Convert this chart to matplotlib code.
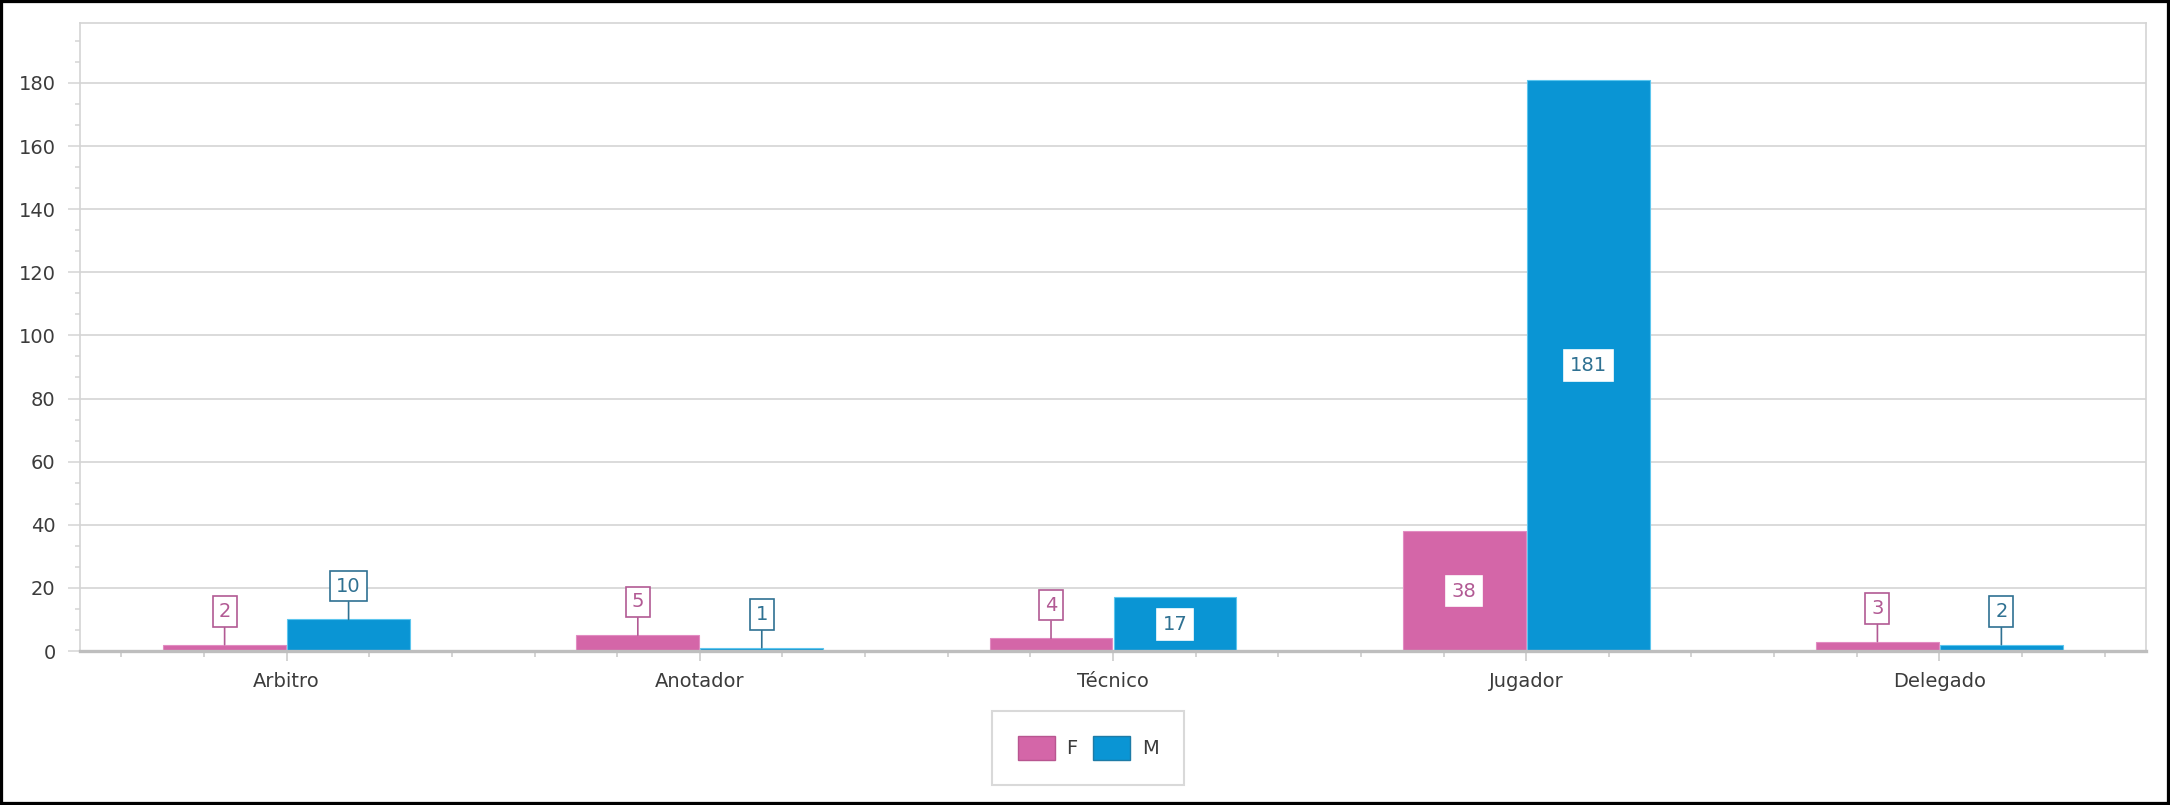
import matplotlib
matplotlib.use('Agg')
import matplotlib.pyplot as plt
from matplotlib.patches import Patch, Rectangle
from matplotlib.ticker import MultipleLocator, FixedLocator
import numpy as np

categories = ['Arbitro', 'Anotador', 'Técnico', 'Jugador', 'Delegado']
values_f = [2, 5, 4, 38, 3]
values_m = [10, 1, 17, 181, 2]
series_names = ['F', 'M']

color_f = '#D466A8'
color_m = '#0A95D4'
edge_f = '#E28CC2'
edge_m = '#5CC6EE'
label_f = '#B25A94'
label_m = '#2F7192'
text_color = '#3C3C3C'
grid_color = '#D4D4D4'

plt.rcParams['font.family'] = ['DejaVu Sans']

fig = plt.figure(figsize=(21.7, 8.05), dpi=100)
ax = fig.add_axes([80 / 2170, 154 / 805, 2066 / 2170, 628 / 805])

x = np.arange(len(categories))
bar_w = 0.297
bars_f = ax.bar(x - 0.15, values_f, bar_w, color=color_f, edgecolor=edge_f, linewidth=0.8, zorder=3)
bars_m = ax.bar(x + 0.15, values_m, bar_w, color=color_m, edgecolor=edge_m, linewidth=0.8, zorder=3)

ax.set_xlim(-0.5, 4.5)
ax.set_ylim(0, 199)

# value labels: inside the bar when there is room, else above with a connector
px_per_unit = 628 / 199
for bars, vals, lc in ((bars_f, values_f, label_f), (bars_m, values_m, label_m)):
    for b, v in zip(bars, vals):
        cx = b.get_x() + b.get_width() / 2
        box = dict(boxstyle='square,pad=0.3', facecolor='white', edgecolor=lc, linewidth=1.2)
        if v * px_per_unit > 40:
            box['edgecolor'] = 'white'
            ax.text(cx, v / 2, str(v), ha='center', va='center', fontsize=14,
                    color=lc, bbox=box, zorder=5)
        else:
            ax.annotate(str(v), xy=(cx, v), xytext=(0, 24), textcoords='offset points',
                        ha='center', va='center', fontsize=14, color=lc, bbox=box, zorder=5,
                        arrowprops=dict(arrowstyle='-', color=lc, lw=1.2, shrinkA=0, shrinkB=0))

# axes styling
ax.yaxis.set_major_locator(MultipleLocator(20))
ax.yaxis.set_minor_locator(MultipleLocator(20 / 3))
ax.set_yticks(np.arange(0, 181, 20))
ax.set_xticks(x)
ax.set_xticklabels(categories)
ax.xaxis.set_minor_locator(FixedLocator([v for v in np.arange(-0.4, 4.5, 0.2) if abs(v - round(v)) > 0.05]))

ax.grid(axis='y', which='major', color=grid_color, linewidth=1.2, zorder=0)
ax.set_axisbelow(True)

for side in ('left', 'top', 'right'):
    ax.spines[side].set_color(grid_color)
    ax.spines[side].set_linewidth(1.2)
ax.spines['bottom'].set_color('#BEBEBE')
ax.spines['bottom'].set_linewidth(2.4)
ax.spines['bottom'].set_zorder(4)

ax.tick_params(axis='y', which='major', length=8.5, width=1.1, color=grid_color,
               labelsize=14, labelcolor=text_color, pad=9)
ax.tick_params(axis='y', which='minor', length=3.5, width=1.1, color=grid_color)
ax.tick_params(axis='x', which='major', length=7.5, width=1.1, color='#C8C8C8',
               labelsize=14, labelcolor=text_color, pad=7.5)
ax.tick_params(axis='x', which='minor', length=4.5, width=1.1, color='#C8C8C8')

handles = [Patch(facecolor=color_f, edgecolor='#B85690', label=series_names[0]),
           Patch(facecolor=color_m, edgecolor='#1E7BA6', label=series_names[1])]
leg = fig.legend(handles=handles, loc='center', bbox_to_anchor=(1088 / 2170, 57 / 805), ncol=2,
                 fontsize=14, frameon=True, fancybox=False, handlelength=1.9, handleheight=1.45,
                 handletextpad=0.6, columnspacing=0.8, borderpad=1.3, borderaxespad=0)
leg.get_frame().set_edgecolor('#D0D0D0')
leg.get_frame().set_linewidth(1.5)
for t in leg.get_texts():
    t.set_color(text_color)

# outer black frame of the picture
fig.patches.append(Rectangle((0, 0), 1, 1, transform=fig.transFigure, fill=False,
                             edgecolor='black', linewidth=4.5, zorder=10))

fig.savefig('out.png', dpi=100, facecolor='white')
